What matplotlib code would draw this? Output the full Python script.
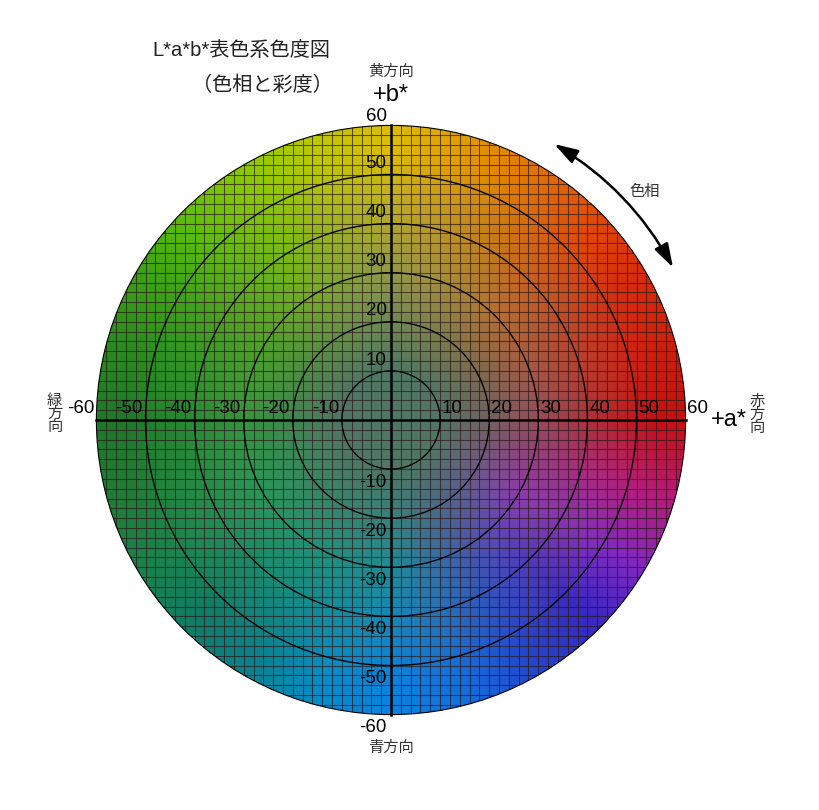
import numpy as np
import matplotlib
matplotlib.use("Agg")
import matplotlib.pyplot as plt
from matplotlib.patches import Circle, FancyArrowPatch

# 色の見本（角度ごと、中間リングと外周）
hue_angles = [0, 15, 30, 45, 60, 75, 90, 105, 120, 135, 150, 165, 180,
              195, 210, 225, 240, 255, 270, 285, 300, 315, 330, 345]
outer_colors = [(200, 15, 15), (210, 30, 10), (215, 45, 10), (225, 75, 5),
                (225, 115, 0), (225, 155, 0), (220, 188, 10), (190, 200, 0),
                (140, 200, 0), (95, 190, 10), (60, 160, 20), (40, 140, 30),
                (30, 120, 40), (30, 125, 55), (25, 130, 75), (15, 125, 100),
                (10, 130, 140), (5, 140, 200), (10, 130, 225), (20, 110, 220),
                (35, 70, 205), (55, 40, 195), (130, 40, 190), (185, 25, 120)]
mid_colors = [(150, 75, 90), (160, 85, 75), (170, 95, 60), (180, 110, 50),
              (170, 130, 50), (160, 145, 60), (145, 150, 75), (135, 160, 60),
              (120, 170, 40), (100, 165, 40), (80, 160, 40), (65, 155, 50),
              (50, 150, 60), (45, 150, 75), (40, 150, 90), (35, 148, 105),
              (30, 145, 120), (30, 142, 135), (30, 140, 150), (50, 115, 160),
              (70, 90, 170), (100, 70, 180), (140, 60, 170), (150, 60, 130)]
center_color = (80, 118, 100)

ring_values = [10, 20, 30, 40, 50]
tick_values = [10, 20, 30, 40, 50]
grid_step = 2
radius = 60

jp = ["Liberation Sans", "Noto Sans CJK JP"]
plt.rcParams["font.family"] = jp

S = 4.91  # px per unit
fig = plt.figure(figsize=(8.2, 8.1), dpi=100)
ax = fig.add_axes([0, 0, 1, 1])
ax.set_xlim(-391 / S, 429 / S)
ax.set_ylim(-390 / S, 420 / S)
ax.axis("off")

# color field
n = 500
xs = np.linspace(-radius, radius, n)
A, B = np.meshgrid(xs, xs)
R = np.hypot(A, B)
T = np.degrees(np.arctan2(B, A)) % 360
ang = np.array(hue_angles + [360])
outer = np.array(outer_colors + [outer_colors[0]], float) / 255
mid = np.array(mid_colors + [mid_colors[0]], float) / 255
cen = np.array(center_color, float) / 255
img = np.zeros((n, n, 3))
for c in range(3):
    o = np.interp(T, ang, outer[:, c])
    m = np.interp(T, ang, mid[:, c])
    w1 = np.clip((R - 10) / 20, 0, 1)
    w2 = np.clip((R - 30) / 24, 0, 1)
    col = cen[c] + w1 * (m - cen[c])
    col = col + w2 * (o - col)
    img[:, :, c] = col

disk = Circle((0, 0), radius, transform=ax.transData, facecolor="none")
im = ax.imshow(img, extent=[-radius, radius, -radius, radius], origin="lower",
               interpolation="bilinear", zorder=1)
im.set_clip_path(disk)

# grid
for v in np.arange(-radius, radius + 1, grid_step):
    ln1, = ax.plot([v, v], [-radius, radius], color="#2a1818", lw=0.75, alpha=0.7, zorder=2)
    ln2, = ax.plot([-radius, radius], [v, v], color="#2a1818", lw=0.75, alpha=0.7, zorder=2)
    ln1.set_clip_path(disk)
    ln2.set_clip_path(disk)

# rings
for rv in ring_values:
    ax.add_patch(Circle((0, 0), rv, fill=False, ec="black", lw=1.0, zorder=3))
ax.add_patch(Circle((0, 0), radius, fill=False, ec="black", lw=0.8, zorder=3))

# axes lines
ax.plot([-radius, radius], [0, 0], color="black", lw=1.8, zorder=4)
ax.plot([0, 0], [-radius, radius], color="black", lw=1.8, zorder=4)

# tick labels
fs = 13.5
for t in tick_values:
    ax.text(t + 0.4, 2.4, str(t), ha="left", va="center", fontsize=fs, zorder=5)
    ax.text(-t - 0.6, 2.4, str(-t), ha="right", va="center", fontsize=fs, zorder=5)
    ax.text(-0.9, t + 2.2, str(t), ha="right", va="center", fontsize=fs, zorder=5)
    ax.text(-0.9, -t - 2.7, str(-t), ha="right", va="center", fontsize=fs, zorder=5)
ax.text(-0.9, 61.8, "60", ha="right", va="center", fontsize=fs)
ax.text(-0.9, -62.6, "-60", ha="right", va="center", fontsize=fs)
ax.text(60.2, 2.3, "60", ha="left", va="center", fontsize=fs)
ax.text(-60.3, 2.3, "-60", ha="right", va="center", fontsize=fs)

# axis names
ax.text(0, 66.2, "+b*", ha="center", va="center", fontsize=17)
ax.text(0, 70.9, "黄方向", ha="center", va="center", fontsize=11, color="#333333")
ax.text(0, -66.8, "青方向", ha="center", va="center", fontsize=11, color="#333333")
ax.text(65.2, 0.0, "+a*", ha="left", va="center", fontsize=17)
ax.text(74.5, 1.0, "赤\n方\n向", ha="center", va="center", fontsize=11,
        color="#333333", linespacing=0.9)
ax.text(-68.5, 1.3, "緑\n方\n向", ha="center", va="center", fontsize=11,
        color="#333333", linespacing=0.9)

# title
ax.text((152 - 391) / S, (420 - 50) / S, "L*a*b*表色系色度図", ha="left", va="center",
        fontsize=14.5, color="#222222")
ax.text((192 - 391) / S, (420 - 85) / S, "（色相と彩度）", ha="left", va="center",
        fontsize=14.5, color="#222222")

# hue arrow
ra = 65.3
pA = (ra * np.cos(np.radians(59.4)), ra * np.sin(np.radians(59.4)))
pB = (ra * np.cos(np.radians(28.4)), ra * np.sin(np.radians(28.4)))
arr = FancyArrowPatch(pA, pB, connectionstyle="arc3,rad=-0.136",
                      arrowstyle="<|-|>,head_length=0.8,head_width=0.25",
                      mutation_scale=18, color="black", lw=1.8, shrinkA=0, shrinkB=0)
ax.add_patch(arr)
ax.text(51.7, 46.4, "色相", ha="center", va="center", fontsize=11, color="#333333")

fig.savefig("out.png", dpi=100)
